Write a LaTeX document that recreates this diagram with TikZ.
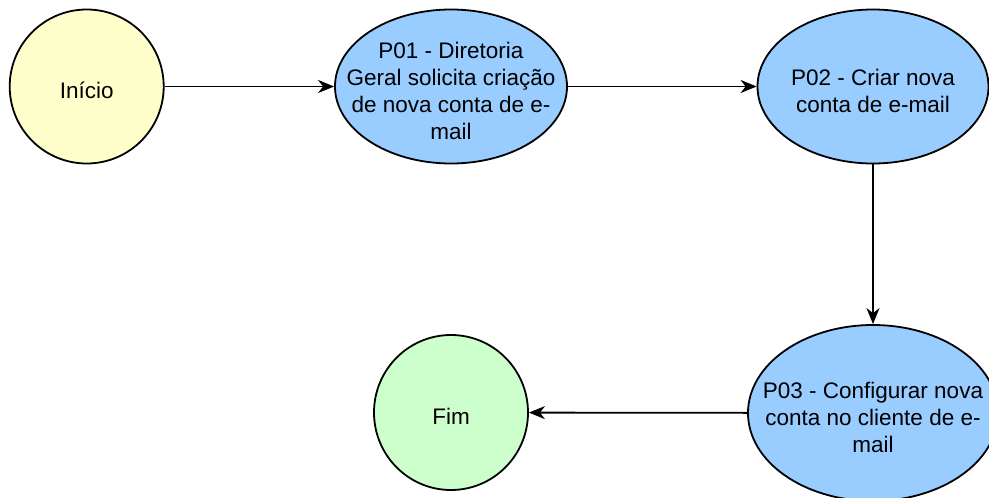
\documentclass[tikz,border=0pt]{standalone}
\usepackage{fontspec}
\setmainfont{Liberation Sans}
\usetikzlibrary{shapes.geometric,arrows.meta}
\definecolor{startyellow}{HTML}{FFFFCC}
\definecolor{procblue}{HTML}{99CCFF}
\definecolor{endgreen}{HTML}{CCFFCC}
\tikzset{
  shapebase/.style={ellipse, draw=black, line width=1.8pt, inner sep=0pt},
  txt/.style={align=center, font=\fontsize{22.5}{27}\selectfont, inner sep=0pt, yshift=-4pt},
  startnode/.style={shapebase, fill=startyellow, minimum width=154pt, minimum height=154pt},
  endnode/.style={shapebase, fill=endgreen, minimum width=154pt, minimum height=155pt},
  procnode/.style={shapebase, fill=procblue},
  flow/.style={line width=1.8pt, -{Stealth[length=16pt, width=13pt, inset=5pt]}}
}
\begin{document}
\begin{tikzpicture}[x=1pt,y=-1pt]
\useasboundingbox (0,0) rectangle (989,498);
\clip (0,0) rectangle (989,498);
\node[startnode, label={[txt]center:Início}] (inicio) at (86.7,86.5) {};
\node[procnode, minimum width=232pt, minimum height=154pt,
  label={[txt]center:{P01 - Diretoria\\Geral solicita criação\\de nova conta de e-\\mail}}] (p01) at (451,86.5) {};
\node[procnode, minimum width=231pt, minimum height=154pt,
  label={[txt]center:{P02 - Criar nova\\conta de e-mail}}] (p02) at (873,86.5) {};
\node[procnode, minimum width=250pt, minimum height=176pt,
  label={[txt]center:{P03 - Configurar nova\\conta no cliente de e-\\mail}}] (p03) at (873,413) {};
\node[endnode, label={[txt]center:Fim}] (fim) at (451,412.5) {};
\draw[flow] (inicio) -- (p01);
\draw[flow] (p01) -- (p02);
\draw[flow] (p02) -- (p03);
\draw[flow] (p03) -- (fim);
\end{tikzpicture}
\end{document}
